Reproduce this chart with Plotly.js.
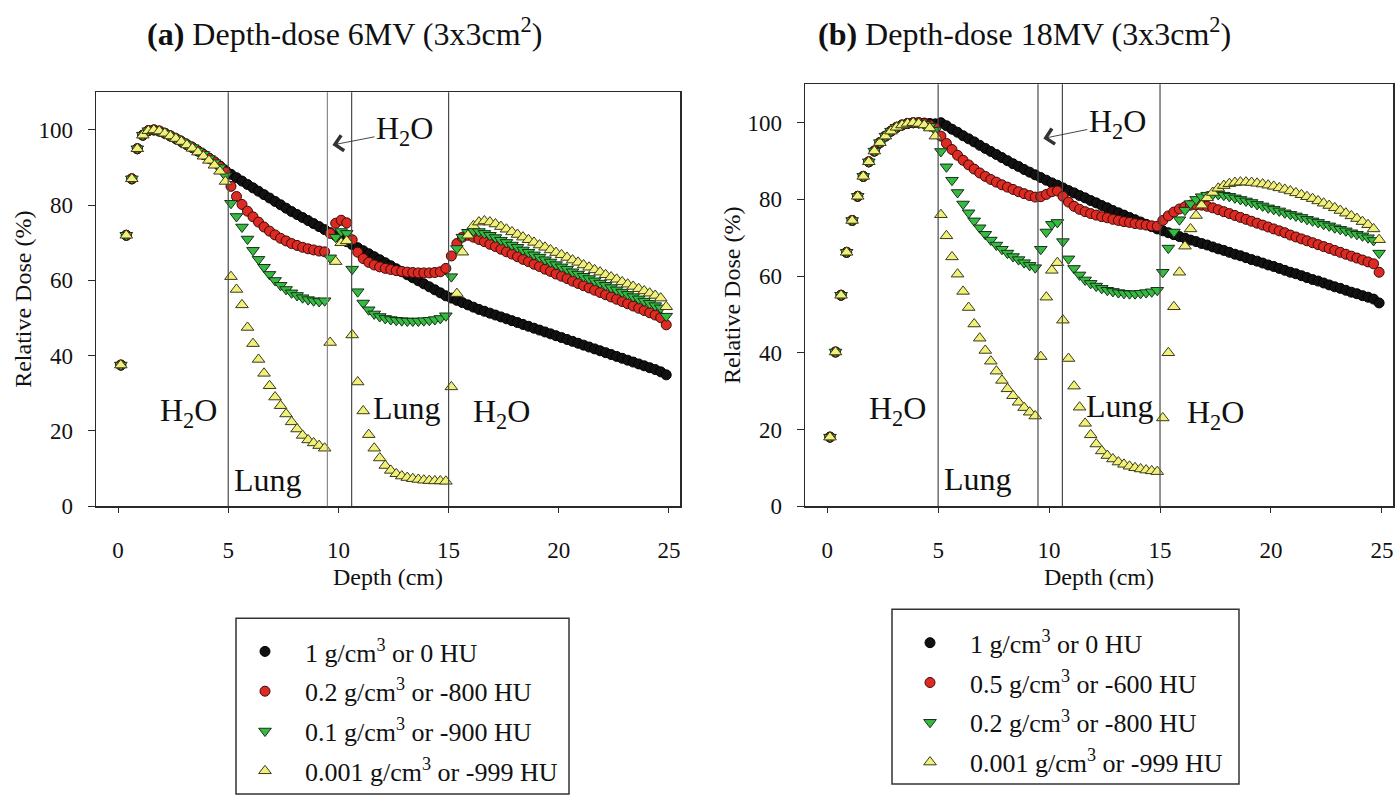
<!DOCTYPE html>
<html>
<head>
<meta charset="utf-8">
<script src="https://cdn.plot.ly/plotly-3.0.1.min.js"></script>
<style>
html,body{margin:0;padding:0;background:#fff;}
#chart{width:1398px;height:795px;}
</style>
</head>
<body>
<div id="chart"></div>
<script>
// ---------------- DATA ----------------
const depth = [0.125,0.375,0.625,0.875,1.125,1.375,1.625,1.875,2.125,2.375,2.625,2.875,3.125,3.375,3.625,3.875,4.125,4.375,4.625,4.875,
5.125,5.375,5.625,5.875,6.125,6.375,6.625,6.875,7.125,7.375,7.625,7.875,8.125,8.375,8.625,8.875,9.125,9.375,9.625,9.875,
10.125,10.375,10.625,10.875,11.125,11.375,11.625,11.875,12.125,12.375,12.625,12.875,13.125,13.375,13.625,13.875,14.125,14.375,14.625,14.875,
15.125,15.375,15.625,15.875,16.125,16.375,16.625,16.875,17.125,17.375,17.625,17.875,18.125,18.375,18.625,18.875,19.125,19.375,19.625,19.875,
20.125,20.375,20.625,20.875,21.125,21.375,21.625,21.875,22.125,22.375,22.625,22.875,23.125,23.375,23.625,23.875,24.125,24.375,24.625,24.875];

// (a) 6 MV
const water6 = [37.5,72,87,95,98.6,99.8,100,99.7,99.1,98.4,97.7,96.9,96.1,95.3,94.4,93.5,92.5,91.5,90.4,89.2,
88.2,87.3,86.4,85.5,84.6,83.7,82.8,81.9,81,80.1,79.2,78.3,77.5,76.7,75.9,75.1,74.3,73.5,72.7,71.9,
71.1,70.3,69.5,68.7,67.9,67.1,66.3,65.5,64.7,63.9,63.1,62.3,61.5,60.7,59.9,59.1,58.3,57.5,56.7,55.9,
55.3,54.7,54.1,53.5,52.9,52.3,51.8,51.3,50.8,50.3,49.8,49.3,48.8,48.3,47.8,47.3,46.8,46.3,45.8,45.3,
44.8,44.3,43.8,43.3,42.8,42.3,41.8,41.3,40.8,40.3,39.8,39.3,38.8,38.3,37.8,37.3,36.8,36.3,35.7,34.9];
const lung02_6 = [37.5,72,87,95,98.6,99.8,100,99.7,99.1,98.4,97.7,96.9,96.1,95.3,94.4,93.5,92.5,91.5,90.3,88.8,
85,82.3,80.2,78.4,76.9,75.5,74.2,73.1,72.1,71.2,70.5,69.8,69.3,68.8,68.4,68.1,67.8,67.6,72.5,75.2,
76,75.3,70.8,67.5,65.8,64.8,64.1,63.6,63.2,62.9,62.6,62.4,62.2,62.1,62,62,62,62.1,62.3,63.2,
66.5,69.8,71.5,72,71.5,70.9,70.3,69.6,69,68.3,67.6,67,66.3,65.6,65,64.3,63.7,63,62.4,61.7,
61.1,60.5,59.8,59.2,58.6,58,57.4,56.8,56.2,55.6,55,54.4,53.8,53.2,52.6,52,51.4,50.8,50.1,48.2];
const lung01_6 = [37.5,72,87,95,98.6,99.8,100,99.7,99.1,98.4,97.7,96.9,96.1,95.3,94.4,93.5,92.4,91.3,90,87.8,
80.5,77,74.2,71,68,65.6,63.5,61.6,60,58.7,57.6,56.7,56,55.4,54.9,54.6,54.4,54.6,66,71.5,
73,72.5,63,57,54,52.2,51.1,50.4,49.9,49.6,49.4,49.3,49.2,49.2,49.2,49.3,49.4,49.6,49.9,50.6,
61,68.5,71.5,72.8,73.2,73,72.5,72,71.4,70.7,70.1,69.4,68.8,68.1,67.5,66.8,66.2,65.5,64.9,64.2,
63.6,63,62.3,61.7,61.1,60.5,59.9,59.3,58.7,58.1,57.5,56.9,56.3,55.7,55.1,54.5,53.9,53.3,52.7,50.5];
const air6 = [37.5,72,87,95,98.6,99.8,100,99.7,99.1,98.4,97.7,96.9,96,95.1,94.1,93,91.9,90.6,89,86.3,
61,57.6,53.5,47.5,43.2,39,35.3,32,29,26.7,24.5,22.4,20.5,18.8,17.6,16.8,16.1,15.4,43.5,65,
70,70.5,45.5,33,25.3,19,15.4,12.8,10.8,9.5,8.6,8,7.6,7.3,7.1,6.9,6.8,6.7,6.7,6.6,
31.7,56.5,67.5,72,74.5,75.5,75.8,75.5,75,74.3,73.6,72.9,72.2,71.5,70.8,70.1,69.4,68.8,68.1,67.4,
66.8,66.1,65.4,64.8,64.1,63.5,62.8,62.2,61.5,60.9,60.3,59.6,59,58.4,57.8,57.2,56.6,56,55.3,53];

// (b) 18 MV
const water18 = [18,40.2,55,66.2,74.5,80.8,86,89.8,92.6,94.8,96.5,97.8,98.8,99.4,99.8,100,100,99.9,99.8,99.7,
100,99.2,98.3,97.5,96.6,95.8,95,94.1,93.3,92.5,91.7,90.9,90.1,89.3,88.6,87.8,87.1,86.4,85.7,85,
84.3,83.7,83,82.3,81.7,81,80.4,79.7,79.1,78.4,77.8,77.1,76.5,75.9,75.3,74.7,74.1,73.5,72.9,72.3,
71.8,71.3,70.8,70.3,69.9,69.4,69,68.5,68.1,67.6,67.1,66.7,66.2,65.7,65.3,64.8,64.3,63.9,63.4,62.9,
62.5,62,61.5,61,60.6,60.1,59.6,59.1,58.7,58.2,57.7,57.2,56.8,56.3,55.8,55.4,54.9,54.5,54,53];
const lung05_18 = [18,40.2,55,66.2,74.5,80.8,86,89.8,92.6,94.8,96.5,97.8,98.8,99.4,99.8,100,100,99.8,99.4,98.6,
96.5,94.6,93,91.5,90.2,89,87.9,86.9,86,85.2,84.5,83.8,83.2,82.6,82,81.5,81,80.6,80.7,81.3,
82,82.2,80.8,79.3,78.2,77.4,76.8,76.3,75.9,75.5,75.2,74.8,74.5,74.2,74,73.7,73.5,73.3,73.1,73,
74.5,75.7,76.7,77.5,78.1,78.5,78.6,78.5,78.2,77.8,77.3,76.8,76.3,75.8,75.3,74.8,74.3,73.8,73.3,72.8,
72.3,71.8,71.3,70.7,70.2,69.7,69.2,68.7,68.2,67.7,67.2,66.7,66.2,65.7,65.2,64.7,64.2,63.7,63.2,61];
const lung02_18 = [18,40.2,55,66.2,74.5,80.8,86,89.8,92.6,94.8,96.5,97.8,98.8,99.4,99.8,100,99.9,99.6,99.1,98,
92.5,88.5,85,81.8,78.8,76.5,74.4,72.6,70.9,69.4,68.1,67,66,65.1,64.3,63.5,62.8,62.2,67,71.5,
73.5,74,69,64.5,62,60.3,59,58.1,57.4,56.8,56.3,56,55.7,55.5,55.4,55.4,55.5,55.7,55.9,56.3,
61,67.3,71.5,74.7,77.2,78.9,80,80.7,81.1,81.3,81.3,81.1,80.8,80.4,80,79.6,79.2,78.7,78.3,77.8,
77.4,77,76.5,76.1,75.7,75.3,74.8,74.4,74,73.5,73.1,72.6,72.2,71.8,71.3,70.9,70.5,70,69.3,66];
const air18 = [18,40.2,55,66.2,74.5,80.8,86,89.8,92.6,94.8,96.5,97.8,98.8,99.4,99.8,100,99.8,99.4,98.6,96.5,
76,70.5,65,60.5,56,51.8,47.5,43.8,40.6,37.8,35.2,32.8,30.6,28.8,27.1,25.7,24.5,23.5,39,54.5,
61.5,63.5,48.5,38.5,31.3,25.8,21.6,18.6,16.2,14.4,13.2,12.3,11.5,10.9,10.4,10,9.7,9.4,9.2,9,
23,40,52,61,67.8,72.3,75.8,78.5,80.4,81.8,82.9,83.6,84.1,84.4,84.5,84.5,84.4,84.2,84,83.7,
83.4,83,82.6,82.2,81.7,81.2,80.7,80.2,79.6,79,78.4,77.8,77.1,76.4,75.7,75,74.2,73.4,72.3,69.5];

const names6 = ['1 g/cm<sup>3</sup> or 0 HU','0.2 g/cm<sup>3</sup> or -800 HU','0.1 g/cm<sup>3</sup> or -900 HU','0.001 g/cm<sup>3</sup> or -999 HU'];
const names18 = ['1 g/cm<sup>3</sup> or 0 HU','0.5 g/cm<sup>3</sup> or -600 HU','0.2 g/cm<sup>3</sup> or -800 HU','0.001 g/cm<sup>3</sup> or -999 HU'];
const panelTitles = ['<b>(a)</b> Depth-dose 6MV (3x3cm<sup>2</sup>)','<b>(b)</b> Depth-dose 18MV (3x3cm<sup>2</sup>)'];
const boundaries = [5, 9.5, 10.6, 15];
const xTicks = [0,5,10,15,20,25];
const yTicks = [0,20,40,60,80,100];
const regionLabels = [
  {text:'H<sub>2</sub>O', x:3.2, y:25},
  {text:'Lung', x:6.8, y:7},
  {text:'Lung', x:13.1, y:26},
  {text:'H<sub>2</sub>O', x:17.4, y:24.5}
];
const regionLabels18 = [
  {text:'H<sub>2</sub>O', x:3.15, y:25},
  {text:'Lung', x:6.8, y:7},
  {text:'Lung', x:13.2, y:26},
  {text:'H<sub>2</sub>O', x:17.5, y:24}
];
const slabArrow = {x:9.73, y:96};
const slabArrow18 = {x:9.74, y:95.9};

// ---------------- STYLE ----------------
const FONT = 'Liberation Serif, Times New Roman, serif';
const W = 1398, H = 795;
const styles = [
  {symbol:'circle', size:10, color:'#111111', line:{color:'#000000', width:1}},
  {symbol:'circle', size:10, color:'#dd2a22', line:{color:'#3a0a08', width:1}},
  {symbol:'triangle-down', size:11, color:'#35bb40', line:{color:'#15301a', width:1}},
  {symbol:'triangle-up', size:11, color:'#f0f07a', line:{color:'#3a3a18', width:1}}
];

const series6 = [water6, lung02_6, lung01_6, air6];
const series18 = [water18, lung05_18, lung02_18, air18];

const traces = [];
series6.forEach((ys, i) => {
  traces.push({type:'scatter', mode:'markers', x:depth, y:ys, xaxis:'x', yaxis:'y',
    name:names6[i], legend:'legend', legendgroup:'a'+i, marker:styles[i], cliponaxis:false});
});
series18.forEach((ys, i) => {
  traces.push({type:'scatter', mode:'markers', x:depth, y:ys, xaxis:'x2', yaxis:'y2',
    name:names18[i], legend:'legend2', legendgroup:'b'+i, marker:styles[i], cliponaxis:false});
});

function px(v){return v/W;}
function py(v){return 1 - v/H;}

const axisCommon = {
  showgrid:false, zeroline:false, showline:true, mirror:true,
  linecolor:'#2a2a2a', linewidth:1.5, ticks:'outside', tickcolor:'#2a2a2a',
  tickfont:{family:FONT, size:23, color:'#111'}
};
function xAxis(domain, anchor){
  return Object.assign({}, axisCommon, {
    domain:domain, anchor:anchor, range:[-1,25.5], tickvals:xTicks, ticktext:xTicks.map(String),
    ticklen:5, ticklabelstandoff:18,
    title:{text:'Depth (cm)', font:{family:FONT, size:24, color:'#111'}, standoff:6}
  });
}
function yAxis(domain, anchor){
  return Object.assign({}, axisCommon, {
    domain:domain, anchor:anchor, range:[0,110], tickvals:yTicks, ticktext:yTicks.map(String),
    ticklen:7, ticklabelstandoff:10,
    title:{text:'Relative Dose (%)', font:{family:FONT, size:24, color:'#111'}, standoff:0}
  });
}

const shapes = [];
boundaries.forEach((b, i) => {
  shapes.push({type:'line', xref:'x', yref:'y domain', x0:b, x1:b, y0:0, y1:1,
    line:{color: i === 1 ? '#8a8a8a' : '#4a4a4a', width:1.2}});
  shapes.push({type:'line', xref:'x2', yref:'y2 domain', x0:b, x1:b, y0:0, y1:1,
    line:{color: '#4a4a4a', width:1.2}});
});
// legend frames
shapes.push({type:'rect', xref:'paper', yref:'paper', x0:px(236), x1:px(569), y0:py(800), y1:py(623),
  line:{color:'#333', width:1.5}, fillcolor:'rgba(0,0,0,0)'});
shapes.push({type:'rect', xref:'paper', yref:'paper', x0:px(892), x1:px(1239), y0:py(790), y1:py(614),
  line:{color:'#333', width:1.5}, fillcolor:'rgba(0,0,0,0)'});

const annotations = [];
regionLabels.forEach(l => annotations.push({xref:'x', yref:'y', x:l.x, y:l.y, text:l.text, showarrow:false,
  font:{family:FONT, size:32, color:'#111'}}));
regionLabels18.forEach(l => annotations.push({xref:'x2', yref:'y2', x:l.x, y:l.y, text:l.text, showarrow:false,
  font:{family:FONT, size:32, color:'#111'}}));
annotations.push({xref:'x', yref:'y', x:slabArrow.x, y:slabArrow.y, text:'H<sub>2</sub>O', showarrow:true,
  ax:72, ay:-14, arrowhead:4, arrowsize:3.4, arrowwidth:0.9, arrowcolor:'#333', standoff:0,
  font:{family:FONT, size:32, color:'#111'}});
annotations.push({xref:'x2', yref:'y2', x:slabArrow18.x, y:slabArrow18.y, text:'H<sub>2</sub>O', showarrow:true,
  ax:74, ay:-15, arrowhead:4, arrowsize:3.4, arrowwidth:0.9, arrowcolor:'#333', standoff:0,
  font:{family:FONT, size:32, color:'#111'}});
annotations.push({xref:'paper', yref:'paper', x:px(344), y:py(32), text:panelTitles[0], showarrow:false,
  xanchor:'center', yanchor:'middle', font:{family:FONT, size:32, color:'#111'}});
annotations.push({xref:'paper', yref:'paper', x:px(1024), y:py(32), text:panelTitles[1], showarrow:false,
  xanchor:'center', yanchor:'middle', font:{family:FONT, size:32, color:'#111'}});

const legendCommon = {
  orientation:'v', bgcolor:'rgba(0,0,0,0)', borderwidth:0, tracegroupgap:3,
  font:{family:FONT, size:26, color:'#111'}, itemwidth:70, itemclick:false, itemdoubleclick:false,
  xref:'paper', yref:'paper', xanchor:'left', yanchor:'top'
};

const layout = {
  width:W, height:H,
  margin:{l:0, r:0, t:0, b:0},
  paper_bgcolor:'#ffffff', plot_bgcolor:'#ffffff',
  showlegend:true,
  xaxis: xAxis([px(96), px(680)], 'y'),
  yaxis: yAxis([py(510), py(93)], 'x'),
  xaxis2: xAxis([px(805), px(1393)], 'y2'),
  yaxis2: yAxis([py(510), py(85)], 'x2'),
  legend: Object.assign({}, legendCommon, {x:px(225), y:py(633)}),
  legend2: Object.assign({}, legendCommon, {x:px(890), y:py(624)}),
  shapes: shapes,
  annotations: annotations
};

Plotly.newPlot('chart', traces, layout, {displayModeBar:false, staticPlot:true});
</script>
</body>
</html>
